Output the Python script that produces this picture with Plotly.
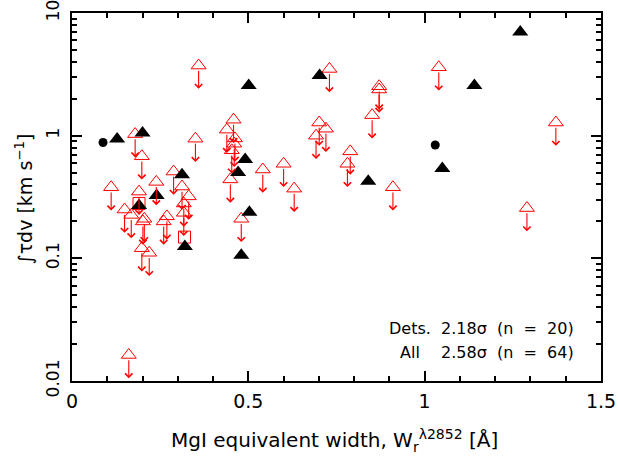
import numpy as np
import plotly.graph_objects as go

# Detections: black filled triangles
det_tri_x = [0.128, 0.200, 0.501, 0.491, 0.471, 0.312, 0.240, 0.190, 0.320, 0.503, 0.480, 0.702, 0.840, 1.050, 1.141, 1.271]
det_tri_y = [0.94, 1.05, 2.56, 0.64, 0.50, 0.48, 0.325, 0.27, 0.125, 0.237, 0.106, 3.10, 0.425, 0.54, 2.56, 7.0]
# Detections: black filled circles
det_circ_x = [0.088, 1.030]
det_circ_y = [0.88, 0.84]
# Detections: red open squares
det_sq_x = [0.190, 0.319]
det_sq_y = [0.28, 0.149]
# Upper limits: red open triangles with down arrows
lim_x = [0.179, 0.198, 0.359, 0.350, 0.458, 0.439, 0.460, 0.453, 0.462, 0.449,
         0.288, 0.239, 0.111, 0.190, 0.312, 0.331, 0.317, 0.317, 0.149, 0.168,
         0.201, 0.269, 0.260, 0.198, 0.219, 0.161, 0.480, 0.541, 0.600, 0.630,
         0.730, 0.701, 0.720, 0.692, 0.789, 0.781, 0.871, 0.871, 0.851, 0.910,
         1.040, 1.372, 1.290, 0.205]
lim_y = [1.03, 0.68, 3.73, 0.945, 1.35, 1.12, 0.86, 0.76, 0.95, 0.44,
         0.51, 0.42, 0.38, 0.35, 0.385, 0.32, 0.28, 0.235, 0.25, 0.226,
         0.20, 0.22, 0.20, 0.121, 0.111, 0.0163, 0.21, 0.53, 0.59, 0.37,
         3.50, 1.28, 1.14, 1.00, 0.745, 0.59, 2.53, 2.38, 1.47, 0.38,
         3.61, 1.28, 0.257, 0.21]

x_ticks = [0, 0.5, 1, 1.5]
x_tick_text = ["0", "0.5", "1", "1.5"]
y_ticks = [0.01, 0.1, 1, 10]
y_tick_text = ["0.01", "0.1", "1", "10"]

stats_labels = ["Dets.", "All"]
stats_values = ["2.18\u03c3\u00a0\u00a0(n\u00a0\u00a0=\u00a0\u00a020)", "2.58\u03c3\u00a0\u00a0(n\u00a0\u00a0=\u00a0\u00a064)"]

x_title = "MgI equivalent width, W<sub>r</sub><sup>\u03bb2852</sup> [\u00c5]"
y_title = "\u222b\u03c4dv [km s<sup>\u22121</sup>]"

RED = "#ff0000"
FONT = "DejaVu Sans, sans-serif"

fig = go.Figure()

fig.add_trace(go.Scatter(x=lim_x, y=lim_y, mode="markers",
                         marker=dict(symbol="triangle-up-open", size=13, color=RED,
                                     line=dict(color=RED, width=1)),
                         showlegend=False, hoverinfo="skip"))
fig.add_trace(go.Scatter(x=det_sq_x, y=det_sq_y, mode="markers",
                         marker=dict(symbol="square-open", size=12, color=RED,
                                     line=dict(color=RED, width=1)),
                         showlegend=False))
fig.add_trace(go.Scatter(x=det_tri_x, y=det_tri_y, mode="markers",
                         marker=dict(symbol="triangle-up", size=14, color="black",
                                     line=dict(width=0)),
                         showlegend=False))
fig.add_trace(go.Scatter(x=det_circ_x, y=det_circ_y, mode="markers",
                         marker=dict(symbol="circle", size=9, color="black",
                                     line=dict(width=0)),
                         showlegend=False))

annotations = []
for xv, yv in zip(lim_x, lim_y):
    ly = np.log10(yv)
    annotations.append(dict(x=xv, y=ly - 0.19, xref="x", yref="y",
                            ax=xv, ay=ly - 0.03, axref="x", ayref="y",
                            text="", showarrow=True, arrowhead=4, arrowsize=1.3,
                            arrowwidth=1.1, arrowcolor=RED))

stat_y = [0.144, 0.077]
for lab, val, yy in zip(stats_labels, stats_values, stat_y):
    annotations.append(dict(x=0.6395, y=yy, xref="paper", yref="paper", text=lab,
                            showarrow=False, xanchor="center", yanchor="middle",
                            font=dict(family=FONT, size=16, color="black")))
    annotations.append(dict(x=0.694, y=yy, xref="paper", yref="paper", text=val,
                            showarrow=False, xanchor="left", yanchor="middle",
                            font=dict(family=FONT, size=16, color="black")))

# axis titles
annotations.append(dict(x=0.497, y=-0.163, xref="paper", yref="paper", text=x_title,
                        showarrow=False, xanchor="center", yanchor="middle",
                        font=dict(family=FONT, size=20, color="black")))
annotations.append(dict(x=-0.09, y=0.495, xref="paper", yref="paper", text=y_title,
                        showarrow=False, xanchor="center", yanchor="middle", textangle=-90,
                        font=dict(family=FONT, size=19, color="black")))

fig.update_layout(
    width=618, height=458,
    margin=dict(l=72, r=17, t=13, b=77),
    paper_bgcolor="white", plot_bgcolor="white",
    font=dict(family=FONT, size=19, color="black"),
    annotations=annotations,
)
fig.update_xaxes(range=[0, 1.5], tickvals=x_ticks, ticktext=x_tick_text,
                 ticks="inside", ticklen=10, tickwidth=2, tickcolor="black",
                 showline=True, linewidth=2, linecolor="black", mirror="allticks",
                 showgrid=False, zeroline=False, automargin=False,
                 minor=dict(ticks="inside", ticklen=5, tickwidth=2, dtick=0.1, tick0=0,
                            tickcolor="black", showgrid=False),
                 tickfont=dict(size=19), ticklabelstandoff=2, ticklabeloverflow="allow")
fig.update_yaxes(type="log", range=[-2, 1], tickvals=y_ticks, ticktext=y_tick_text,
                 ticks="inside", ticklen=10, tickwidth=2, tickcolor="black",
                 showline=True, linewidth=2, linecolor="black", mirror="allticks",
                 showgrid=False, zeroline=False, tickangle=-90, automargin=False,
                 minor=dict(ticks="inside", ticklen=5, tickwidth=2, dtick="D1",
                            tickcolor="black", showgrid=False),
                 tickfont=dict(size=17), ticklabelstandoff=4, ticklabeloverflow="allow")

# remove the page's default 8px body margin so the figure fills the window exactly
fig.write_html("out.html", config={"displayModeBar": False},
               post_script="document.body.style.margin='0px';")
